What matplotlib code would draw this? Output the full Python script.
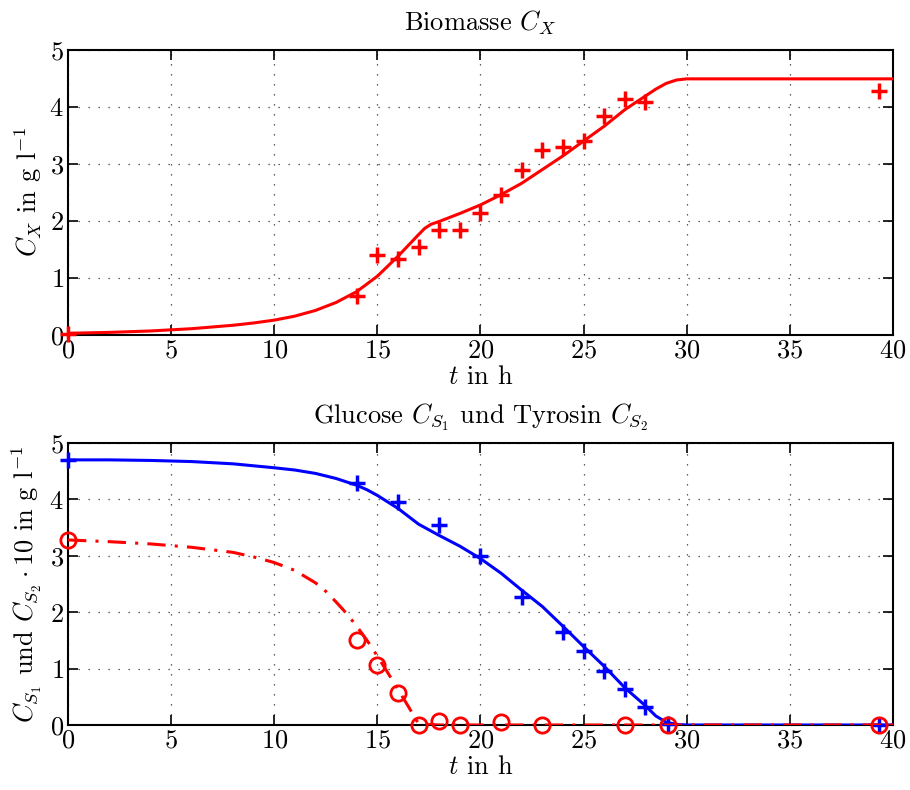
import numpy as np
import matplotlib
matplotlib.use("Agg")
import matplotlib.pyplot as plt

plt.rcParams['font.family'] = 'serif'
plt.rcParams['font.serif'] = ['cmr10']
plt.rcParams['mathtext.fontset'] = 'cm'
plt.rcParams['axes.unicode_minus'] = False
plt.rcParams['axes.formatter.use_mathtext'] = True

# Biomasse: Messwerte
t_x_mess = [0, 14, 15, 16, 17, 18, 19, 20, 21, 22, 23, 24, 25, 26, 27, 28, 39.3]
cx_mess = [0.02, 0.69, 1.4, 1.34, 1.55, 1.84, 1.84, 2.14, 2.45, 2.89, 3.24, 3.29, 3.4, 3.84, 4.14, 4.09, 4.28]

# Biomasse: Modell
t_x_mod = [0, 2, 4, 6, 8, 9, 10, 11, 12, 13, 14, 15, 16, 16.5, 17, 17.3, 17.6, 18, 19, 20, 21, 22, 23, 24, 25, 26, 27,
           28, 28.5, 29, 29.5, 30, 40]
cx_mod = [0.03, 0.045, 0.07, 0.11, 0.17, 0.21, 0.26, 0.33, 0.43, 0.57, 0.76, 1.03, 1.38, 1.57, 1.76, 1.87, 1.94, 1.99,
          2.13, 2.28, 2.46, 2.66, 2.9, 3.14, 3.4, 3.66, 3.95, 4.19, 4.31, 4.41, 4.47, 4.49, 4.49]

# Glucose: Messwerte / Modell
t_s1_mess = [0, 14, 16, 18, 20, 22, 24, 25, 26, 27, 28, 29.1, 39.3]
cs1_mess = [4.7, 4.29, 3.96, 3.54, 3.0, 2.27, 1.64, 1.32, 0.96, 0.63, 0.32, 0.01, 0.0]
t_s1_mod = [0, 2, 4, 6, 8, 10, 11, 12, 13, 14, 14.5, 15, 16, 17, 18, 19, 20, 21, 22, 23, 24, 25, 26, 27, 28, 28.5,
            29, 29.5, 30, 40]
cs1_mod = [4.7, 4.7, 4.69, 4.67, 4.63, 4.56, 4.52, 4.46, 4.37, 4.25, 4.17, 4.07, 3.84, 3.56, 3.36, 3.17, 2.95, 2.69,
           2.39, 2.1, 1.75, 1.39, 1.04, 0.66, 0.34, 0.16, 0.05, 0.01, 0.0, 0.0]

# Tyrosin (x10): Messwerte / Modell
t_s2_mess = [0, 14, 15, 16, 17, 18, 19, 21, 23, 27, 29.1, 39.3]
cs2_mess = [3.28, 1.5, 1.06, 0.57, 0.0, 0.07, 0.0, 0.05, 0.0, 0.0, 0.0, 0.0]
t_s2_mod = [0, 2, 4, 6, 8, 9, 10, 11, 12, 12.5, 13, 13.5, 14, 14.5, 15, 15.5, 16, 16.5, 17, 18, 40]
cs2_mod = [3.28, 3.25, 3.21, 3.15, 3.06, 2.98, 2.88, 2.74, 2.52, 2.37, 2.18, 1.98, 1.75, 1.5, 1.22, 0.93, 0.63, 0.33,
           0.02, 0.0, 0.0]

fig = plt.figure(figsize=(9.1, 7.9), dpi=100)
ax1 = fig.add_axes([0.0747, 0.576, 0.9066, 0.361])
ax2 = fig.add_axes([0.0747, 0.0823, 0.9066, 0.357])

fs = 19

def style(ax):
    ax.set_xlim(0, 40)
    ax.set_ylim(0, 5)
    ax.set_xticks(range(0, 41, 5))
    ax.set_yticks(range(0, 6))
    ax.grid(True, linestyle=(0, (1, 7)), color='#333333', linewidth=0.9)
    ax.tick_params(direction='in', top=True, right=True, length=7, width=1.2, labelsize=fs, pad=3)
    for s in ax.spines.values():
        s.set_linewidth(1.5)
    ax.set_xlabel('$t$ in h', fontsize=fs, labelpad=2)

ax1.plot(t_x_mod, cx_mod, color='red', lw=2.2, zorder=3)
ax1.plot(t_x_mess, cx_mess, '+', color='red', ms=12, mew=2.5, zorder=4, clip_on=False)
style(ax1)
ax1.set_ylabel('$C_X$ in g l$^{-1}$', fontsize=fs, labelpad=4)
ax1.set_title('Biomasse $C_X$', fontsize=fs, pad=14)

ax2.plot(t_s1_mod, cs1_mod, color='blue', lw=2.2, zorder=3)
ax2.plot(t_s1_mess, cs1_mess, '+', color='blue', ms=12, mew=2.5, zorder=4, clip_on=False)
ax2.plot(t_s2_mod, cs2_mod, color='red', lw=2.2, linestyle=(0, (6, 3, 1, 3)), zorder=5)
ax2.plot(t_s2_mess, cs2_mess, 'o', color='red', mfc='none', ms=11, mew=2, zorder=6, clip_on=False)
style(ax2)
ax2.set_ylabel(r'$C_{S_1}$ und $C_{S_2}\cdot 10$ in g l$^{-1}$', fontsize=fs, labelpad=4)
ax2.set_title('Glucose $C_{S_1}$ und Tyrosin $C_{S_2}$', fontsize=fs, pad=14)

fig.savefig('out.png', dpi=100)
